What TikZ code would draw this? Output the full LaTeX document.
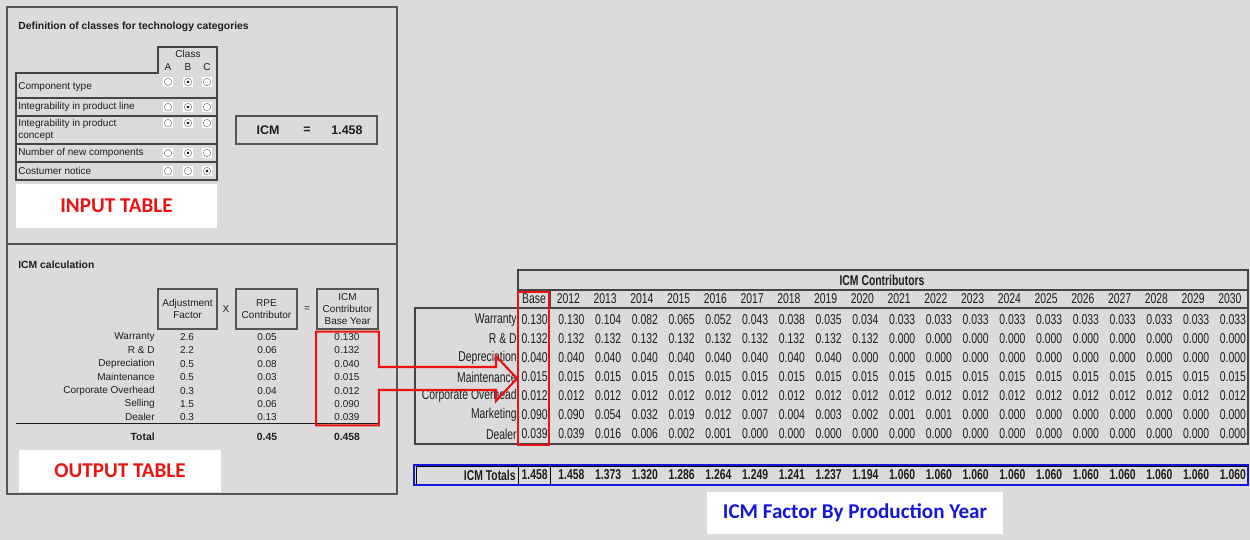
\documentclass[tikz,border=0pt]{standalone}
\usepackage{fontspec}
\setmainfont{Liberation Sans}
\newfontfamily\narrowfont[FakeStretch=0.73]{Liberation Sans}
\newfontfamily\calfont{Carlito}
\usetikzlibrary{calc}

\definecolor{bggray}{RGB}{219,219,219}
\definecolor{panelc}{RGB}{85,85,85}
\definecolor{txtc}{RGB}{30,30,30}
\definecolor{redc}{RGB}{235,18,18}
\definecolor{bluec}{RGB}{22,22,215}

\tikzset{
  cell/.style={inner sep=0pt, text=txtc, font=\fontsize{5.7}{6.7}\selectfont},
  cellb/.style={cell, font=\bfseries\fontsize{5.9}{6.9}\selectfont},
  tbl/.style={inner sep=0pt, text=txtc, font=\narrowfont\fontsize{8.1}{9}\selectfont},
  tblb/.style={tbl, font=\narrowfont\bfseries\fontsize{8.1}{9}\selectfont},
  panel/.style={draw=panelc, line width=0.7pt},
  grid/.style={draw=panelc!80!black, line width=0.8pt},
  banner/.style={fill=white, inner sep=0pt, font=\calfont\bfseries\fontsize{12}{14}\selectfont},
  radio/.style={fill=white, minimum size=5.6pt, inner sep=0pt,
    path picture={\draw[gray, line width=0.3pt] (path picture bounding box.center) circle (2.1pt);}},
  chosen/.style={radio,
    path picture={\draw[gray, line width=0.3pt] (path picture bounding box.center) circle (2.1pt);
      \fill[black] (path picture bounding box.center) circle (0.75pt);}},
  redline/.style={draw=redc, line width=1.2pt}
}

\begin{document}
\begin{tikzpicture}[x=0.02cm, y=-0.02cm]
\useasboundingbox (0,0) rectangle (1250,540);
\fill[bggray] (0,0) rectangle (1250,540);

% left panel
\draw[panel] (7,7) rectangle (397,494);
\draw[panel] (7,244) -- (397,244);

% input table
\node[cellb, anchor=west] (deftitle) at (18,27) {Definition of classes for technology categories};
\draw[grid] (16,73) -- (158,73) -- (158,47) -- (217,47) -- (217,180) -- (16,180) -- cycle;
\foreach \y in {98,116,144,162}
  \draw[grid] (16,\y) -- (217,\y);
\node[cell] (classhd) at (188,54) {Class};
\foreach \t/\x in {A/168,B/188,C/207}
  \node[cell] (col\t) at (\x,67) {\t};

\node[cell, anchor=west] (row1) at (18,87) {Component type};
\node[cell, anchor=west] (row2) at (18,107) {Integrability in product line};
\node[cell, anchor=north west, align=left] (row3) at (18,119) {Integrability in product\\concept};
\node[cell, anchor=west] (row4) at (18,153) {Number of new components};
\node[cell, anchor=west] (row5) at (18,171) {Costumer notice};

\foreach \y/\s [count=\r] in {82/2,107/2,123/2,153/2,171/3}
  \foreach \x [count=\c] in {168,188,207} {
    \ifnum\c=\s\relax
      \node[chosen] (rad\r\c) at (\x,\y) {};
    \else
      \node[radio] (rad\r\c) at (\x,\y) {};
    \fi
  }

\draw[panel] (236,116) rectangle (377,144);
\node[cellb, font=\bfseries\fontsize{7.1}{8}\selectfont] (icmlab) at (268,130) {ICM};
\node[cellb, font=\bfseries\fontsize{7.1}{8}\selectfont] (icmeq) at (307,130) {=};
\node[cellb, font=\bfseries\fontsize{7.1}{8}\selectfont] (icmval) at (347,130) {1.458};

\node[banner, text=redc, minimum width=4.02cm, minimum height=0.88cm] (inbanner) at (116.5,206) {INPUT TABLE};

% output table
\node[cellb, anchor=west] (calctitle) at (18,265) {ICM calculation};
\draw[panel] (158,289) rectangle (217,329);
\draw[panel] (236,289) rectangle (297,329);
\draw[panel] (317,289) rectangle (378,329);
\node[cell, align=center] (adjhd) at (187.5,309) {Adjustment\\Factor};
\node[cell] (times) at (226,309) {X};
\node[cell, align=center] (rpehd) at (266.5,309) {RPE\\Contributor};
\node[cell] (equals) at (307,309) {=};
\node[cell, align=center] (icmhd) at (347.5,309) {ICM\\Contributor\\Base Year};

\foreach \n/\a/\b/\c [count=\k from 0] in {Warranty/2.6/0.05/0.130, R \& D/2.2/0.06/0.132,
    Depreciation/0.5/0.08/0.040, Maintenance/0.5/0.03/0.015, Corporate Overhead/0.3/0.04/0.012,
    Selling/1.5/0.06/0.090, Dealer/0.3/0.13/0.039} {
  \node[cell, anchor=east] (cname\k) at (155,{337+13.4*\k}) {\n};
  \node[cell] (cadj\k) at (187,{337+13.4*\k}) {\a};
  \node[cell] (crpe\k) at (267,{337+13.4*\k}) {\b};
  \node[cell] (cicm\k) at (347,{337+13.4*\k}) {\c};
}
\draw[txtc, line width=0.5pt] (16,423) -- (378,423);
\node[cellb, anchor=east] (totlab) at (155,437) {Total};
\node[cellb] (totrpe) at (267,437) {0.45};
\node[cellb] (toticm) at (347,437) {0.458};

\node[banner, text=redc, minimum width=4.04cm, minimum height=0.84cm] (outbanner) at (120,471) {OUTPUT TABLE};

% ICM contributors table
\draw[grid] (518,270) rectangle (1248,308);
\draw[grid] (518,290) -- (1248,290);
\draw[grid] (550,290) -- (550,308);
\draw[grid] (415,308) rectangle (1248,444);
\draw[grid] (518,308) -- (518,444);
\node[tblb] (contrib) at (882,280) {ICM Contributors};
\node[tbl] (basehd) at (534,299) {Base};
\foreach \i in {0,...,18} {
  \pgfmathtruncatemacro\yr{2012+\i}
  \node[tbl] (yr\i) at ({568.4+36.75*\i},299) {\yr};
}

\foreach \y/\n/\b/\vals [count=\r] in {
  320/Warranty/0.130/{0.130,0.104,0.082,0.065,0.052,0.043,0.038,0.035,0.034,0.033,0.033,0.033,0.033,0.033,0.033,0.033,0.033,0.033,0.033},
  339/R \& D/0.132/{0.132,0.132,0.132,0.132,0.132,0.132,0.132,0.132,0.132,0.000,0.000,0.000,0.000,0.000,0.000,0.000,0.000,0.000,0.000},
  358/Depreciation/0.040/{0.040,0.040,0.040,0.040,0.040,0.040,0.040,0.040,0.000,0.000,0.000,0.000,0.000,0.000,0.000,0.000,0.000,0.000,0.000},
  377/Maintenance/0.015/{0.015,0.015,0.015,0.015,0.015,0.015,0.015,0.015,0.015,0.015,0.015,0.015,0.015,0.015,0.015,0.015,0.015,0.015,0.015},
  396/Corporate Overhead/0.012/{0.012,0.012,0.012,0.012,0.012,0.012,0.012,0.012,0.012,0.012,0.012,0.012,0.012,0.012,0.012,0.012,0.012,0.012,0.012},
  415/Marketing/0.090/{0.090,0.054,0.032,0.019,0.012,0.007,0.004,0.003,0.002,0.001,0.001,0.000,0.000,0.000,0.000,0.000,0.000,0.000,0.000},
  434/Dealer/0.039/{0.039,0.016,0.006,0.002,0.001,0.000,0.000,0.000,0.000,0.000,0.000,0.000,0.000,0.000,0.000,0.000,0.000,0.000,0.000}} {
  \node[tbl, anchor=east] (lab\r) at (517,\y) {\n};
  \node[tbl, anchor=east] (base\r) at (548,\y) {\b};
  \foreach \v [count=\c] in \vals
    \node[tbl, anchor=east] (val\r-\c) at ({550+36.75*\c-2},\y) {\v};
}

% totals row
\draw[black, line width=0.4pt] (416,466) rectangle (1247,484);
\draw[black, line width=0.4pt] (518,466) -- (518,484);
\draw[black, line width=0.4pt] (550,466) -- (550,484);
\draw[bluec, line width=1pt] (414,465) rectangle (1248,485);
\node[tblb, anchor=east] (totals) at (516,475) {ICM Totals};
\node[tblb, anchor=east] (totbase) at (548,475) {1.458};
\foreach \v [count=\c] in {1.458,1.373,1.320,1.286,1.264,1.249,1.241,1.237,1.194,1.060,1.060,1.060,1.060,1.060,1.060,1.060,1.060,1.060,1.060}
  \node[tblb, anchor=east] (tot\c) at ({550+36.75*\c-2},475) {\v};

\node[banner, text=bluec, minimum width=5.92cm, minimum height=0.86cm] (yearbanner) at (855,513) {ICM Factor By Production Year};

% red boxes and arrow
\node[minimum width=1.24cm, minimum height=1.86cm, inner sep=0pt] (basecol) at (347.5,378.5) {};
\node[draw=redc, line width=1.2pt, minimum width=0.62cm, minimum height=3.06cm, inner sep=0pt] (basebox) at (533.5,368.5) {};
\coordinate (tip) at (basebox.west |- basecol.east);
\draw[redline, line join=miter]
  ($(basecol.east)+(0,-11.5)$) -- (basecol.north east) -- (basecol.north west)
  -- (basecol.south west) -- (basecol.south east) -- ($(basecol.east)+(0,11.5)$)
  -- ($(tip)+(-21,11.5)$) -- ($(tip)+(-21,22.5)$) -- (tip)
  -- ($(tip)+(-21,-22.5)$) -- ($(tip)+(-21,-11.5)$) -- cycle;
\end{tikzpicture}
\end{document}
